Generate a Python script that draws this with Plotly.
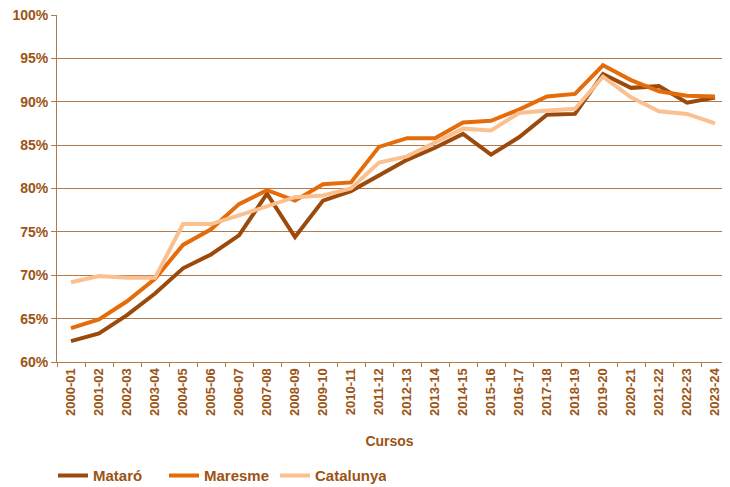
import plotly.graph_objects as go

cursos = ["2000-01", "2001-02", "2002-03", "2003-04", "2004-05", "2005-06",
          "2006-07", "2007-08", "2008-09", "2009-10", "2010-11", "2011-12",
          "2012-13", "2013-14", "2014-15", "2015-16", "2016-17", "2017-18",
          "2018-19", "2019-20", "2020-21", "2021-22", "2022-23", "2023-24"]

mataro = [62.4, 63.3, 65.4, 67.9, 70.8, 72.4, 74.6, 79.4, 74.4, 78.6, 79.7, 81.5,
          83.3, 84.7, 86.3, 83.9, 85.9, 88.5, 88.6, 93.2, 91.6, 91.8, 89.9, 90.5]
maresme = [63.9, 64.9, 67.0, 69.6, 73.5, 75.3, 78.2, 79.8, 78.6, 80.5, 80.7, 84.8,
           85.8, 85.8, 87.6, 87.8, 89.1, 90.6, 90.9, 94.2, 92.5, 91.2, 90.7, 90.6]
catalunya = [69.2, 69.9, 69.7, 69.7, 75.9, 75.9, 76.9, 77.9, 79.0, 79.2, 80.0, 83.0,
             83.7, 85.3, 86.9, 86.7, 88.7, 89.0, 89.2, 92.9, 90.5, 88.9, 88.6, 87.5]

series = [("Mataró", mataro, "#9C4A0C"),
          ("Maresme", maresme, "#E46C0A"),
          ("Catalunya", catalunya, "#FBC08F")]

txt = "#9C5414"
grid = "#B47A4A"
fnt = "Liberation Sans"

fig = go.Figure()
for name, vals, col in series:
    fig.add_trace(go.Scatter(x=cursos, y=vals, name=name, mode="lines",
                             line=dict(color=col, width=4)))

# right end trimmed a little so the last course sits near the window edge
fig.update_xaxes(
    type="category", range=[-0.5, 23.25], automargin=False,
    tickangle=-90, tickson="boundaries", ticks="outside", ticklen=4, tickcolor=grid,
    showline=True, linecolor=grid, linewidth=1, showgrid=False,
    tickfont=dict(family=fnt, size=13, color=txt, weight="bold"),
    title=dict(text="Cursos", standoff=21,
               font=dict(family=fnt, size=14, color=txt, weight="bold")),
)
fig.update_yaxes(
    range=[60, 100], dtick=5, ticksuffix="%", automargin=False,
    ticklabeloverflow="allow",
    ticks="outside", ticklen=5, tickcolor=grid,
    showline=True, linecolor=grid, linewidth=1,
    showgrid=True, gridcolor=grid, gridwidth=1, zeroline=False,
    tickfont=dict(family=fnt, size=14, color=txt, weight="bold"),
)

# the page body shifts the figure 8px right/down; keep width inside the window
fig.update_layout(
    width=714, height=487,
    margin=dict(l=49, r=0, t=7, b=133),
    plot_bgcolor="white", paper_bgcolor="white",
    legend=dict(orientation="h", x=-0.006, xanchor="left", y=-0.328, yanchor="middle",
                entrywidth=66,
                font=dict(family=fnt, size=15, color=txt, weight="bold")),
)

fig.write_html("out.html")
